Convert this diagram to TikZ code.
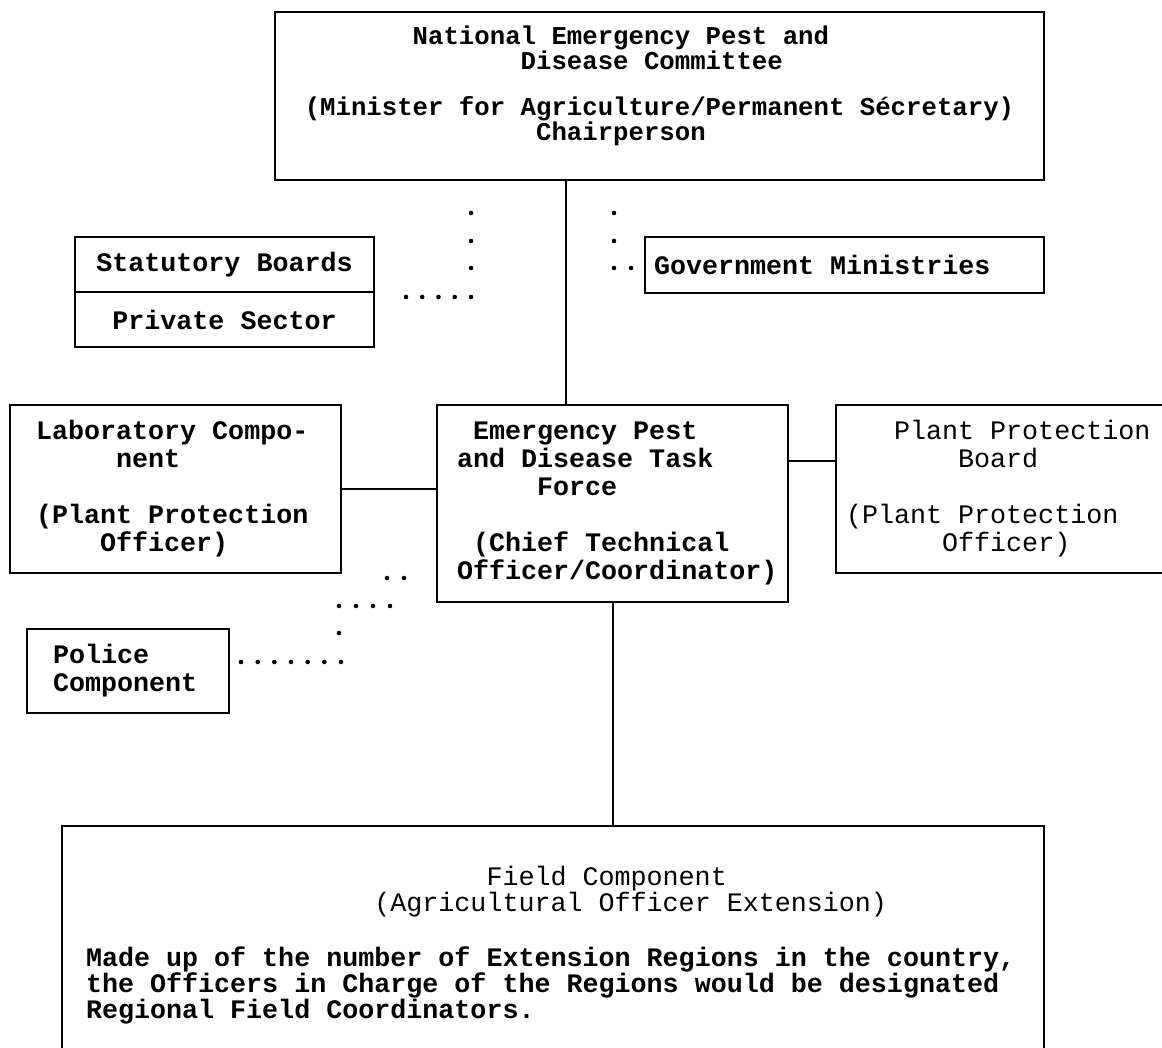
\documentclass[tikz,border=0pt]{standalone}
\usepackage{fontspec}
\setmainfont{Liberation Mono}
\usetikzlibrary{positioning}
\newcommand\ind[1]{\hspace*{\dimexpr0.6em*#1\relax}}
\newcommand\mono{\fontdimen2\font=0.6em\fontdimen3\font=0pt\fontdimen4\font=0pt\relax}
\newcommand\topfont{\fontsize{25.7pt}{23pt}\selectfont}
\newcommand\midfont{\fontsize{26.7pt}{28pt}\selectfont}
\newcommand\fieldfont{\fontsize{26.7pt}{24pt}\selectfont}

\begin{document}
\begin{tikzpicture}[x=1pt,y=-1pt,
	box/.style={draw, line width=2pt, outer sep=0pt, inner sep=0pt, align=flush left, font=\midfont\bfseries\mono},
	link/.style={line width=2pt}]
	\useasboundingbox (0,0) rectangle (1162,1048);
	\clip (0,0) rectangle (1162,1048);

	% committee at the top
	\node[box, font=\topfont\bfseries\mono, minimum width=769pt, minimum height=168pt] (com) at (659.5,96)
		{\ind{7}National Emergency Pest and\\
		 \ind{14}Disease Committee\\[23pt]
		 (Minister for Agriculture/Permanent Sécretary)\\
		 \ind{15}Chairperson\rule[-25pt]{0pt}{25pt}};

	% boards and ministries
	\node[box, minimum width=299pt, minimum height=55pt] (stat) at (224.5,264.5) {Statutory Boards};
	\node[box, minimum width=299pt, minimum height=55pt, below=0pt of stat] (priv) {Private Sector};
	\node[box, minimum width=399pt, minimum height=56pt, inner xsep=9pt, text width=381pt] (gov) at (844.5,265) {Government Ministries};

	% task force row
	\node[box, minimum width=331pt, minimum height=168pt, inner xsep=26pt, text width=279pt] (lab) at (175.5,489)
		{Laboratory Compo-\\
		 \ind{5}nent\\[28pt]
		 (Plant Protection\\
		 \ind{4}Officer)};
	\node[box, minimum width=351pt, minimum height=197pt, inner xsep=20pt, text width=311pt] (tf) at (612.5,503.5)
		{\ind{1}Emergency Pest\\
		 and Disease Task\\
		 \ind{5}Force\\[28pt]
		 \ind{1}(Chief Technical\\
		 Officer/Coordinator)};
	\node[box, font=\midfont\mono, minimum width=344pt, minimum height=168pt, inner xsep=10pt, text width=324pt] (ppb) at (1008,489)
		{\ind{3}Plant Protection\\
		 \ind{7}Board\\[28pt]
		 (Plant Protection\\
		 \ind{6}Officer)};
	\node[box, minimum width=202pt, minimum height=84pt, inner xsep=26pt, text width=150pt] (police) at (128,671)
		{Police\\
		 Component};

	% field component, open at the bottom of the page
	\node[box, font=\fieldfont\bfseries\mono, minimum width=982pt, minimum height=226pt, inner xsep=24pt, text width=934pt] (field) at (553,939)
		{{\mdseries\mono\ind{25}Field Component}\rule{0pt}{32pt}\\
		 {\mdseries\mono\ind{18}(Agricultural Officer Extension)}\\[29pt]
		 Made up of the number of Extension Regions in the country,\\
		 the Officers in Charge of the Regions would be designated\\
		 Regional Field Coordinators.};

	% solid links
	\coordinate (topx) at (566,0);
	\coordinate (ppby) at (0,461);
	\draw[link] (com.south -| topx) -- (tf.north -| topx);
	\draw[link] (lab.east) -- (tf.west |- lab.east);
	\draw[link] (tf.east |- ppby) -- (ppb.west |- ppby);
	\draw[link] (tf.south) -- (tf.south |- field.north);

	% dotted links
	\foreach \x/\y in {471/213, 471/241, 471/268, 406/297, 422.25/297, 438.5/297, 454.75/297, 471/297}
		\fill (\x,\y) circle (2.3pt);
	\foreach \x/\y in {614/213, 614/241, 614/268, 631/268}
		\fill (\x,\y) circle (2.3pt);
	\foreach \x/\y in {387/578, 404/578, 339/606, 356/606, 373/606, 390/606, 339/633}
		\fill (\x,\y) circle (2.3pt);
	\foreach \x in {241, 257.7, 274.3, 291, 307.7, 324.3, 341}
		\fill (\x,662) circle (2.3pt);
\end{tikzpicture}
\end{document}
